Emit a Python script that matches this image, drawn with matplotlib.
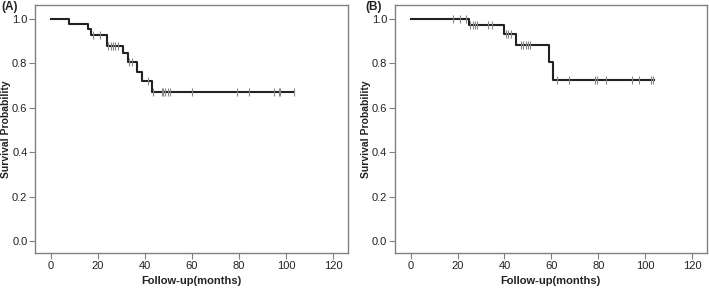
import numpy as np
import matplotlib.pyplot as plt

plt.rcParams["font.family"] = ["Liberation Sans", "DejaVu Sans"]

# panel A: step times (months) and survival after each step
times_a = [0, 7.9, 16.0, 17.0, 24.1, 30.9, 32.7, 36.6, 38.7, 43.0, 103.2]
surv_a = [1.0, 0.977, 0.954, 0.930, 0.877, 0.845, 0.808, 0.763, 0.721, 0.673, 0.673]
censor_a = [18.1, 21.0, 24.5, 25.5, 26.5, 27.5, 28.5, 33.3, 34.7, 41.5, 43.3,
            47.1, 47.7, 48.6, 49.6, 50.8, 60.0, 79.1, 84.1, 95.0, 96.9, 97.6, 103.2]

# panel B
times_b = [0, 24.8, 39.7, 45.0, 58.8, 60.9, 104.0]
surv_b = [1.0, 0.974, 0.932, 0.884, 0.808, 0.727, 0.727]
censor_b = [18.0, 20.9, 23.4, 25.5, 26.5, 27.5, 28.5, 32.9, 34.6, 40.7, 41.7, 42.7,
            47.1, 48.1, 49.1, 50.1, 51.1, 62.4, 67.7, 78.6, 79.4, 83.3, 94.3, 97.4,
            102.4, 103.4]

panels = [("(A)", times_a, surv_a, censor_a), ("(B)", times_b, surv_b, censor_b)]
xticks = [0, 20, 40, 60, 80, 100, 120]
yticks = [0.0, 0.2, 0.4, 0.6, 0.8, 1.0]

fig = plt.figure(figsize=(7.09, 2.89), dpi=100)
positions = [[0.0494, 0.1246, 0.4414, 0.858], [0.5571, 0.1246, 0.4397, 0.858]]
tag_x = [0.002, 0.516]

for (tag, t, s, cens), pos, tx in zip(panels, positions, tag_x):
    ax = fig.add_axes(pos)
    ax.step(t, s, where="post", color="#222222", lw=1.5)
    t_arr = np.array(t)
    s_arr = np.array(s)
    idx = np.searchsorted(t_arr, cens, side="right") - 1
    ax.plot(cens, s_arr[idx], linestyle="none", marker="|", ms=6,
            mew=0.8, color="#888888")

    ax.set_xlim(-6.7, 126.3)
    ax.set_ylim(-0.054, 1.063)
    ax.set_xticks(xticks)
    ax.set_yticks(yticks)
    ax.set_yticklabels([f"{v:.1f}" for v in yticks])
    for sp in ax.spines.values():
        sp.set_color("#808080")
        sp.set_linewidth(1.0)
    ax.tick_params(direction="out", length=4, width=0.8, color="#808080",
                   labelsize=8, labelcolor="#222222", pad=1.5)
    ax.set_xlabel("Follow-up(months)", fontsize=8, fontweight="bold",
                  color="#222222")
    ax.set_ylabel("Survival Probability", fontsize=7.5, fontweight="bold",
                  color="#222222")
    ax.xaxis.set_label_coords(0.5, -0.093)
    ax.yaxis.set_label_coords(-0.078, 0.5)
    fig.text(tx, 0.975, tag, fontsize=8.5, fontweight="bold", color="#222222",
             va="center", ha="left")

fig.savefig("out.png", dpi=100)
